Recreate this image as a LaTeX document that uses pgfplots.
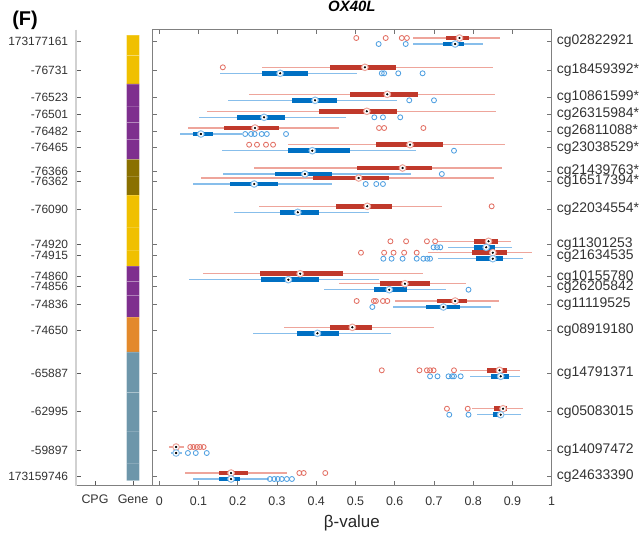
\documentclass[border=0pt]{standalone}
\usepackage{pgfplots}
\pgfplotsset{compat=1.18}
\usepackage{pgfplotstable}
\usepackage{fontspec}
\setmainfont{Liberation Sans}

% box colours (two groups)
\definecolor{redbox}{RGB}{192,57,43}
\definecolor{redwhisk}{RGB}{238,165,155}
\definecolor{redout}{RGB}{226,112,100}
\definecolor{bluebox}{RGB}{0,112,195}
\definecolor{bluewhisk}{RGB}{135,190,235}
\definecolor{blueout}{RGB}{80,160,225}
% gene track colours
\definecolor{gyellow}{RGB}{240,192,0}
\definecolor{gpurple}{RGB}{126,47,142}
\definecolor{golive}{RGB}{138,112,0}
\definecolor{gorange}{RGB}{227,137,43}
\definecolor{gsteel}{RGB}{109,150,170}

% per-CpG box statistics: track position, lower whisker, Q1, median, Q3, upper whisker
\pgfplotstableread{
y     lo    q1    med   q3    hi
41    0.647 0.730 0.765 0.788 0.868
70.3  0.263 0.435 0.524 0.603 0.851
97.3  0.229 0.485 0.581 0.659 0.856
114.3 0.121 0.407 0.529 0.607 0.858
131   0.073 0.164 0.244 0.304 0.457
147.7 0.329 0.553 0.639 0.724 0.881
171   0.242 0.505 0.620 0.694 0.873
181   0.107 0.391 0.508 0.586 0.852
209.3 0.255 0.451 0.530 0.593 0.720
244.3 0.711 0.803 0.839 0.864 0.897
255.7 0.686 0.796 0.850 0.885 0.949
276.7 0.111 0.257 0.359 0.469 0.672
286.7 0.457 0.563 0.626 0.690 0.782
304   0.601 0.707 0.754 0.783 0.866
330.3 0.317 0.435 0.492 0.542 0.700
373.3 0.767 0.835 0.867 0.886 0.918
411.7 0.797 0.853 0.876 0.886 0.928
450   0.024 0.038 0.043 0.050 0.062
476   0.065 0.151 0.183 0.227 0.325
}\redstats

\pgfplotstableread{
y     lo    q1    med   q3    hi
41    0.647 0.724 0.754 0.777 0.826
70.3  0.154 0.263 0.308 0.380 0.505
97.3  0.174 0.339 0.397 0.452 0.605
114.3 0.100 0.198 0.267 0.321 0.476
131   0.053 0.086 0.106 0.137 0.210
147.7 0.160 0.327 0.390 0.486 0.654
171   0.162 0.295 0.371 0.440 0.641
181   0.087 0.179 0.242 0.302 0.441
209.3 0.191 0.308 0.353 0.408 0.535
244.3 0.737 0.803 0.833 0.856 0.900
255.7 0.709 0.806 0.850 0.877 0.928
276.7 0.075 0.260 0.329 0.406 0.559
286.7 0.421 0.546 0.586 0.632 0.731
304   0.595 0.679 0.724 0.767 0.845
330.3 0.240 0.351 0.403 0.459 0.591
373.3 0.792 0.846 0.870 0.890 0.919
411.7 0.810 0.850 0.870 0.876 0.921
450   0.030 0.038 0.043 0.048 0.058
476   0.086 0.153 0.183 0.205 0.279
}\bluestats

% outliers: track position, beta value
\pgfplotstableread{
y     x
41    0.502
41    0.577
41    0.618
41    0.631
70.3  0.162
131   0.560
131   0.573
131   0.673
147.7 0.229
147.7 0.249
147.7 0.272
147.7 0.290
209.3 0.847
244.3 0.589
244.3 0.629
244.3 0.682
244.3 0.703
255.7 0.514
255.7 0.573
255.7 0.597
255.7 0.624
255.7 0.656
304   0.503
304   0.547
304   0.552
304   0.570
304   0.581
373.3 0.567
373.3 0.663
373.3 0.682
373.3 0.690
373.3 0.699
373.3 0.751
411.7 0.733
411.7 0.786
450   0.079
450   0.087
450   0.096
450   0.104
450   0.113
476   0.357
476   0.368
476   0.423
}\redout

\pgfplotstableread{
y     x
41    0.559
41    0.628
70.3  0.567
70.3  0.573
70.3  0.609
70.3  0.671
97.3  0.637
97.3  0.700
114.3 0.548
114.3 0.570
114.3 0.614
131   0.219
131   0.234
131   0.243
131   0.261
131   0.274
131   0.323
147.7 0.751
171   0.720
181   0.526
181   0.553
181   0.570
244.3 0.699
244.3 0.708
244.3 0.716
255.7 0.571
255.7 0.592
255.7 0.620
255.7 0.656
255.7 0.673
255.7 0.683
255.7 0.690
286.7 0.788
304   0.543
373.3 0.690
373.3 0.709
373.3 0.737
373.3 0.746
373.3 0.751
373.3 0.768
411.7 0.739
411.7 0.788
450   0.073
450   0.093
450   0.121
476   0.282
476   0.293
476   0.302
476   0.312
476   0.325
476   0.338
}\blueout

\newcommand{\cpgticks}{41,70.3,97.3,114.3,131,147.7,171,181,209.3,244.3,255.7,276.7,286.7,304,330.3,373.3,411.7,450,476}

% one gene-track cell
\newcommand{\genecell}[3]{%
  \addplot[fill=#1, draw=white, draw opacity=0.18, line width=0.5bp]
    coordinates {(1.834,#2) (2.166,#2) (2.166,#3) (1.834,#3) (1.834,#2)};}

% one group of horizontal compact boxplots
\newcommand{\boxgroup}[6]{%
  % #1 stats, #2 outliers, #3 whisker, #4 box, #5 outlier colour, #6 offset
  \addplot[draw=none, mark=none, error bars/.cd, x dir=both, x explicit,
    error mark=none, error bar style={draw=#3, line width=1.1bp}]
    table[x=med, y expr=\thisrow{y}#6,
      x error plus expr=\thisrow{hi}-\thisrow{med},
      x error minus expr=\thisrow{med}-\thisrow{lo}] {#1};
  \addplot[draw=none, mark=none, error bars/.cd, x dir=both, x explicit,
    error mark=none, error bar style={draw=#4, line width=4.6bp}]
    table[x=med, y expr=\thisrow{y}#6,
      x error plus expr=\thisrow{q3}-\thisrow{med},
      x error minus expr=\thisrow{med}-\thisrow{q1}] {#1};
  \addplot[only marks, mark=o, mark size=2.5bp,
    mark options={draw=#5, line width=0.85bp}]
    table[x=x, y expr=\thisrow{y}#6] {#2};
  \addplot[only marks, mark=*, mark size=3.3bp,
    mark options={fill=white, draw=#3, line width=1bp}]
    table[x=med, y expr=\thisrow{y}#6] {#1};
  \addplot[only marks, mark=*, mark size=0.9bp,
    mark options={fill=black, draw=none}]
    table[x=med, y expr=\thisrow{y}#6] {#1};}

\begin{document}
\begin{tikzpicture}
\useasboundingbox (0bp,-534bp) rectangle (643bp,0bp);

% genomic position and gene track
\begin{axis}[
  at={(76bp,-485.7bp)}, anchor=south west,
  scale only axis, width=76bp, height=456.2bp,
  xmin=0.5, xmax=2.5, ymin=29.5, ymax=485.7, y dir=reverse,
  axis x line*=bottom, axis y line*=left,
  x axis line style={black!50, line width=0.9bp, -},
  y axis line style={black!18, line width=1.2bp, -},
  tick align=inside, major tick length=4.5bp,
  every tick/.style={black!65, line width=0.8bp},
  xtick={1,2}, xticklabels={CPG,Gene},
  ytick=\cpgticks,
  yticklabels={173177161,-76731,-76523,-76501,-76482,-76465,-76366,-76362,-76090,-74920,-74915,-74860,-74856,-74836,-74650,-65887,-62995,-59897,173159746},
  xticklabel style={font=\fontsize{12.5}{14}\selectfont, text=black!80, anchor=center, yshift=-13.6bp},
  yticklabel style={font=\fontsize{12}{14}\selectfont, text=black!80, anchor=east, inner sep=0pt, xshift=-7.7bp},
]
\genecell{gyellow}{35}{55.65}
\genecell{gyellow}{55.65}{83.8}
\genecell{gpurple}{83.8}{105.8}
\genecell{gpurple}{105.8}{122.65}
\genecell{gpurple}{122.65}{139.35}
\genecell{gpurple}{139.35}{159.35}
\genecell{golive}{159.35}{176}
\genecell{golive}{176}{195.15}
\genecell{gyellow}{195.15}{226.8}
\genecell{gyellow}{226.8}{250}
\genecell{gyellow}{250}{266.2}
\genecell{gpurple}{266.2}{281.7}
\genecell{gpurple}{281.7}{295.35}
\genecell{gpurple}{295.35}{317.15}
\genecell{gorange}{317.15}{351.8}
\genecell{gsteel}{351.8}{392.5}
\genecell{gsteel}{392.5}{430.85}
\genecell{gsteel}{430.85}{463}
\genecell{gsteel}{463}{480.7}
\end{axis}

% beta-value boxplots
\begin{axis}[
  at={(152bp,-485.7bp)}, anchor=south west,
  scale only axis, width=399.7bp, height=456.2bp,
  xmin=-0.0185, xmax=1, ymin=29.5, ymax=485.7, y dir=reverse,
  axis line style={black!50, line width=0.9bp},
  tick align=inside, major tick length=4.5bp,
  every tick/.style={black!55, line width=0.7bp},
  xtick={0,0.1,0.2,0.3,0.4,0.5,0.6,0.7,0.8,0.9,1},
  xticklabels={0,0.1,0.2,0.3,0.4,0.5,0.6,0.7,0.8,0.9,1},
  ytick=\cpgticks,
  yticklabels={cg02822921,cg18459392*,cg10861599*,cg26315984*,cg26811088*,cg23038529*,cg21439763*,cg16517394*,cg22034554*,cg11301253,cg21634535,cg10155780,cg26205842,cg11119525,cg08919180,cg14791371,cg05083015,cg14097472,cg24633390},
  yticklabel pos=right,
  xticklabel style={font=\fontsize{12.5}{14}\selectfont, text=black!80, anchor=center, yshift=-15.3bp},
  yticklabel style={font=\fontsize{14}{16}\selectfont, text=black!80, anchor=west, inner sep=0pt, xshift=5bp},
  xlabel={β-value},
  xlabel style={font=\fontsize{17}{19}\selectfont, text=black!85, at={(axis description cs:0.5,0)}, anchor=center, yshift=-37bp},
  title={\bfseries\itshape OX40L},
  title style={font=\fontsize{15}{17}\selectfont, at={(axis description cs:0.5,1)}, anchor=center, yshift=17bp},
]
\boxgroup{\redstats}{\redout}{redwhisk}{redbox}{redout}{-3}
\boxgroup{\bluestats}{\blueout}{bluewhisk}{bluebox}{blueout}{+3}
\end{axis}

\node[font=\bfseries\fontsize{20}{22}\selectfont] at (25bp,-20bp) {(F)};
\end{tikzpicture}
\end{document}
